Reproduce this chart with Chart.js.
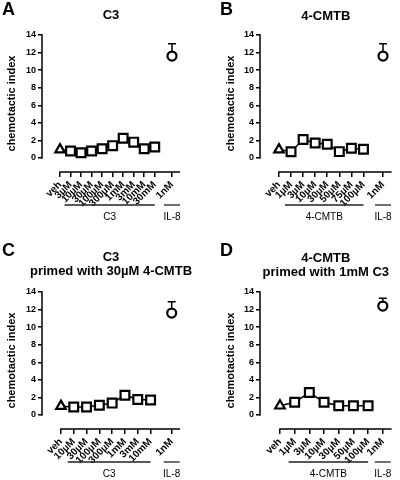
<!DOCTYPE html>
<html>
<head>
<meta charset="utf-8">
<script src="https://cdn.jsdelivr.net/npm/chart.js@4.4.1/dist/chart.umd.min.js"></script>
<style>
  body { margin: 0; background: #fff; width: 400px; height: 480px; position: relative; overflow: hidden; font-family: "Liberation Sans", Arial, sans-serif; }
  canvas { position: absolute; }
  .tag { position: absolute; font-weight: bold; font-size: 18px; line-height: 18px; color: #000; }
</style>
</head>
<body>
<canvas id="chartA" width="200" height="240" style="left:0;top:0"></canvas>
<canvas id="chartB" width="200" height="240" style="left:200px;top:0"></canvas>
<canvas id="chartC" width="200" height="240" style="left:0;top:240px"></canvas>
<canvas id="chartD" width="200" height="240" style="left:200px;top:240px"></canvas>
<div class="tag" style="left:2px;top:0">A</div>
<div class="tag" style="left:220px;top:0">B</div>
<div class="tag" style="left:2px;top:241px">C</div>
<div class="tag" style="left:220px;top:241px">D</div>
<script>
// data
const titles = [['C3'], ['4-CMTB'], ['C3', 'primed with 30µM 4-CMTB'], ['4-CMTB', 'primed with 1mM C3']];
const drugNames = ['C3', '4-CMTB', 'C3', '4-CMTB'];
const dosesA = ['3µM', '10µM', '30µM', '100µM', '300µM', '1mM', '3mM', '10mM', '30mM'];
const dosesB = ['1µM', '3µM', '10µM', '30µM', '50µM', '75µM', '100µM'];
const dosesC = ['10µM', '30µM', '100µM', '300µM', '1mM', '3mM', '10mM'];
const dosesD = ['1µM', '3µM', '10µM', '30µM', '50µM', '100µM'];
const valuesA = [0.8, 0.6, 0.8, 1.05, 1.4, 2.25, 1.8, 1.05, 1.25];
const valuesB = [0.7, 2.1, 1.7, 1.55, 0.72, 1.1, 1.0];
const valuesC = [0.9, 0.9, 1.1, 1.35, 2.25, 1.75, 1.7];
const valuesD = [1.45, 2.55, 1.45, 1.05, 1.05, 1.05];
const vehValues = [0.95, 0.95, 1.0, 1.05];
const il8Means = [11.6, 11.6, 11.6, 12.4];
const il8Upper = [13.0, 13.0, 12.9, 13.3];
const yTicks = [0, 2, 4, 6, 8, 10, 12, 14];
const vehLabel = 'veh';
const il8Dose = '1nM';
const il8Name = 'IL-8';

// layout per panel
const canvasIds = ['chartA', 'chartB', 'chartC', 'chartD'];
const il8Gap = [1.64, 1.62, 1.65, 1.0];
const xMin = [-1.71, -1.57, -1.48, -1.36];
const xMax = [11.4, 9.33, 9.3, 7.6];
const padLeft = [5, 24, 5, 24];
const padRight = [20, 1, 20, 2];
const yAxisWidth = [37, 36, 37, 36];
const padTop = [35, 35, 52, 52];
const titleFirstLine = [15, 16, 17, 18];
const xAxisHeight = [68, 68, 51, 51];

const dosesList = [dosesA, dosesB, dosesC, dosesD];
const valuesList = [valuesA, valuesB, valuesC, valuesD];

const FONT = '"Liberation Sans", Arial, sans-serif';
Chart.defaults.font.family = FONT;
Chart.defaults.color = '#000';

// detached axis lines (GraphPad style)
const axisLines = {
    id: 'axisLines',
    beforeDatasetsDraw(chart) {
        const { ctx, chartArea, scales: { x, y } } = chart;
        ctx.save();
        ctx.strokeStyle = '#000';
        ctx.lineWidth = 1.5;
        ctx.beginPath();
        ctx.moveTo(chartArea.left, y.getPixelForValue(yTicks[yTicks.length - 1]) - 0.75);
        ctx.lineTo(chartArea.left, y.getPixelForValue(0) + 0.75);
        ctx.moveTo(x.getPixelForValue(0) - 0.75, chartArea.bottom);
        ctx.lineTo(chartArea.right, chartArea.bottom);
        ctx.stroke();
        ctx.restore();
    }
};

// panel title centred over the plot area
const panelTitle = {
    id: 'panelTitle',
    afterDraw(chart, args, opts) {
        const { ctx, chartArea } = chart;
        const cx = (chartArea.left + chartArea.right) / 2;
        ctx.save();
        ctx.fillStyle = '#000';
        ctx.font = 'bold 13px ' + FONT;
        ctx.textAlign = 'center';
        ctx.textBaseline = 'middle';
        opts.lines.forEach((t, k) => ctx.fillText(t, cx, opts.y + k * 14));
        ctx.restore();
    }
};

// one-sided error bar on the IL-8 point
const errorBars = {
    id: 'errorBars',
    beforeDatasetsDraw(chart, args, opts) {
        const { ctx, scales: { x, y } } = chart;
        const px = x.getPixelForValue(opts.x);
        const top = y.getPixelForValue(opts.upper);
        const base = y.getPixelForValue(opts.mean);
        ctx.save();
        ctx.strokeStyle = '#000';
        ctx.lineWidth = 1.5;
        ctx.beginPath();
        ctx.moveTo(px, base);
        ctx.lineTo(px, top);
        ctx.moveTo(px - 4, top);
        ctx.lineTo(px + 4, top);
        ctx.stroke();
        ctx.restore();
    }
};

// group underlines + names under the x tick labels
const brackets = {
    id: 'brackets',
    afterDraw(chart, args, opts) {
        const { ctx, chartArea, scales: { x } } = chart;
        const lineY = chartArea.bottom + 33;
        const textY = chartArea.bottom + 45;
        const il8Px = x.getPixelForValue(opts.il8X);
        const groups = [
            { name: opts.drug, from: x.getPixelForValue(1) - 6, to: x.getPixelForValue(opts.n) },
            { name: il8Name, from: il8Px - 8, to: il8Px + 8 }
        ];
        ctx.save();
        ctx.strokeStyle = '#222';
        ctx.lineWidth = 1.3;
        ctx.fillStyle = '#000';
        ctx.font = '10px ' + FONT;
        ctx.textAlign = 'center';
        ctx.textBaseline = 'middle';
        groups.forEach(g => {
            ctx.beginPath();
            ctx.moveTo(g.from, lineY);
            ctx.lineTo(g.to, lineY);
            ctx.stroke();
            ctx.fillText(g.name, (g.from + g.to) / 2, textY);
        });
        ctx.restore();
    }
};

canvasIds.forEach((id, i) => {
    const doses = dosesList[i];
    const values = valuesList[i];
    const n = doses.length;
    const il8X = n + il8Gap[i];
    const tickPos = [0].concat(doses.map((d, k) => k + 1), [il8X]);
    const tickLabels = [vehLabel].concat(doses, [il8Dose]);
    const lineData = [{ x: 0, y: vehValues[i] }].concat(values.map((v, k) => ({ x: k + 1, y: v })));

    new Chart(document.getElementById(id).getContext('2d'), {
        type: 'scatter',
        data: {
            datasets: [{
                data: lineData,
                showLine: true,
                borderColor: '#000',
                borderWidth: 1.5,
                tension: 0,
                pointStyle: lineData.map((p, k) => k === 0 ? 'triangle' : 'rect'),
                pointRadius: lineData.map((p, k) => k === 0 ? 5.5 : 6.2),
                pointBackgroundColor: '#fff',
                pointBorderColor: '#000',
                pointBorderWidth: 2.2
            }, {
                data: [{ x: il8X, y: il8Means[i] }],
                showLine: false,
                pointStyle: 'circle',
                pointRadius: 4.5,
                pointBackgroundColor: '#fff',
                pointBorderColor: '#000',
                pointBorderWidth: 2.2
            }]
        },
        options: {
            responsive: false,
            animation: false,
            events: [],
            layout: { padding: { left: padLeft[i], right: padRight[i], top: padTop[i], bottom: 0 } },
            plugins: {
                legend: { display: false },
                tooltip: { enabled: false },
                title: { display: false },
                panelTitle: { lines: titles[i], y: titleFirstLine[i] },
                errorBars: { x: il8X, mean: il8Means[i], upper: il8Upper[i] },
                brackets: { drug: drugNames[i], n: n, il8X: il8X }
            },
            scales: {
                x: {
                    type: 'linear',
                    min: xMin[i],
                    max: xMax[i],
                    afterBuildTicks: s => { s.ticks = tickPos.map(v => ({ value: v })); },
                    afterFit: s => { s.height = xAxisHeight[i]; },
                    border: { display: false },
                    grid: { display: true, drawOnChartArea: false, drawTicks: true, tickLength: 5, color: '#000', lineWidth: 1.5 },
                    ticks: {
                        autoSkip: false,
                        minRotation: 45,
                        maxRotation: 45,
                        padding: 2,
                        font: { size: 10, weight: 'bold' },
                        callback: (v, idx) => tickLabels[idx]
                    }
                },
                y: {
                    min: -1.6,
                    max: 14,
                    afterBuildTicks: s => { s.ticks = yTicks.map(v => ({ value: v })); },
                    afterFit: s => { s.width = yAxisWidth[i]; },
                    border: { display: false },
                    grid: { display: true, drawOnChartArea: false, drawTicks: true, tickLength: 4, color: '#000', lineWidth: 1.5 },
                    ticks: { padding: 2, font: { size: 9, weight: 'bold' } },
                    title: { display: true, text: 'chemotactic index', padding: 0, font: { size: 11, weight: 'bold' } }
                }
            }
        },
        plugins: [axisLines, panelTitle, errorBars, brackets]
    });
});
</script>
</body>
</html>
